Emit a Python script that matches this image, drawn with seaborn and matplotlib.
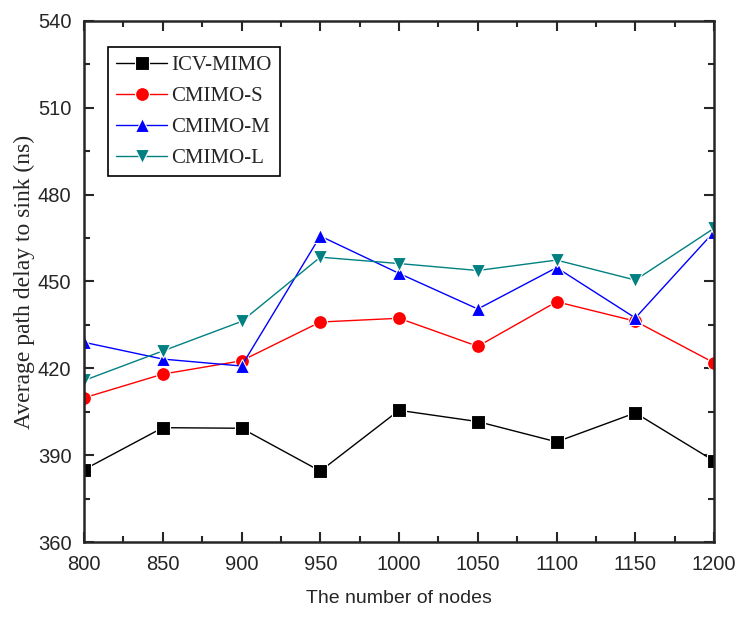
import numpy as np
import pandas as pd
import seaborn as sns
import matplotlib.pyplot as plt
from matplotlib.ticker import MultipleLocator

nodes = [800, 850, 900, 950, 1000, 1050, 1100, 1150, 1200]
icv_mimo = [385, 399.5, 399.3, 384.5, 405.5, 401.6, 394.6, 404.6, 388]
cmimo_s = [409.8, 418, 422.6, 436, 437.3, 427.6, 443, 436.3, 421.9]
cmimo_m = [429, 423.2, 420.8, 465.7, 452.8, 440.5, 454.8, 437.4, 467.2]
cmimo_l = [415.8, 426, 436.2, 458.4, 456.2, 453.8, 457.4, 450.5, 468.4]

names = ['ICV-MIMO', 'CMIMO-S', 'CMIMO-M', 'CMIMO-L']
colors = {'ICV-MIMO': 'black', 'CMIMO-S': 'red', 'CMIMO-M': 'blue', 'CMIMO-L': '#008080'}
marks = {'ICV-MIMO': 's', 'CMIMO-S': 'o', 'CMIMO-M': '^', 'CMIMO-L': 'v'}

df = pd.DataFrame({
    'nodes': nodes * 4,
    'delay': icv_mimo + cmimo_s + cmimo_m + cmimo_l,
    'method': [n for n in names for _ in nodes],
})

sns.set_style('ticks')
plt.rcParams['font.family'] = ['Liberation Sans', 'DejaVu Sans']

fig = plt.figure(figsize=(7.4, 6.21), dpi=100)
ax = fig.add_axes([0.1135, 0.1272, 0.8515, 0.8390])

sns.lineplot(data=df, x='nodes', y='delay', hue='method', style='method',
             palette=colors, markers=marks, dashes=False, linewidth=1,
             markersize=10, markeredgewidth=0.8, ax=ax)

ax.set_xlim(800, 1200)
ax.set_ylim(360, 540)
ax.xaxis.set_major_locator(MultipleLocator(50))
ax.xaxis.set_minor_locator(MultipleLocator(25))
ax.yaxis.set_major_locator(MultipleLocator(30))
ax.yaxis.set_minor_locator(MultipleLocator(15))
ax.tick_params(which='both', direction='in', top=True, right=True, labelsize=14.5, width=1.5)
ax.tick_params(which='major', length=7, pad=9)
ax.tick_params(which='minor', length=4)
for s in ax.spines.values():
    s.set_linewidth(1.8)

ax.set_xlabel('The number of nodes', fontsize=14, labelpad=12)
ax.set_ylabel('Average path delay to sink (ns)', fontsize=17, family='Liberation Serif', labelpad=2)

leg = ax.legend(loc='upper left', bbox_to_anchor=(0.038, 0.950), fancybox=False,
                edgecolor='black', framealpha=1, prop={'family': 'Liberation Serif', 'size': 15},
                handlelength=2.45, handletextpad=0.2, labelspacing=0.55, borderpad=0.4,
                borderaxespad=0)
leg.get_frame().set_linewidth(1.2)
for h in leg.legend_handles:
    h.set_markersize(10)

fig.savefig('out.png', dpi=100)
